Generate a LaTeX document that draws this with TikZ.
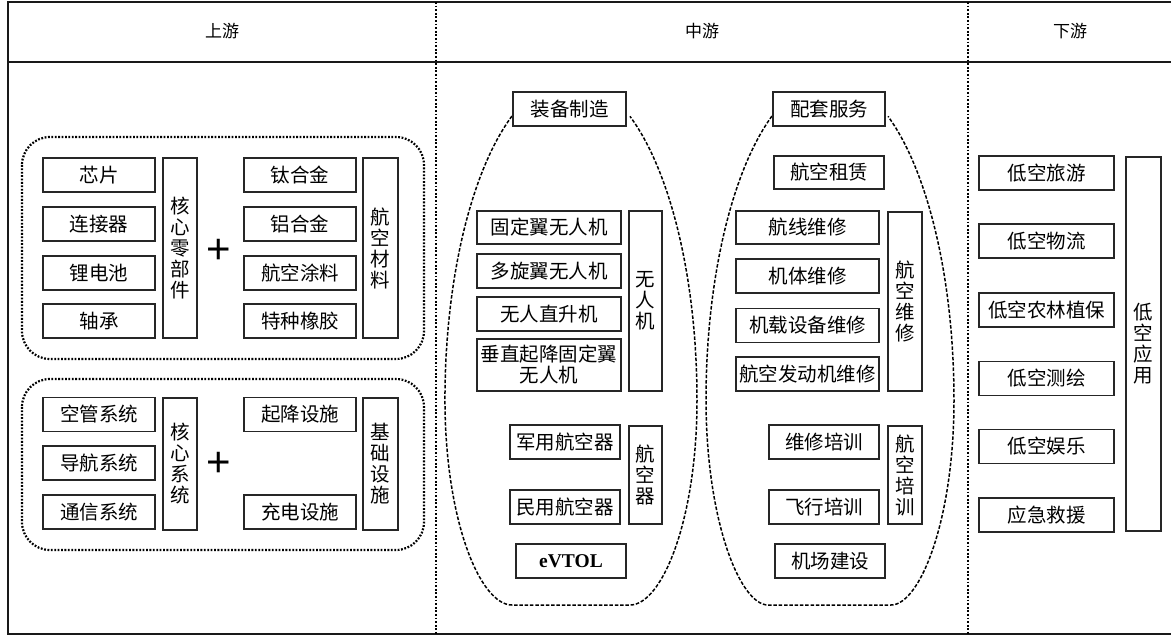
\documentclass[tikz,border=0pt]{standalone}
\usepackage{fontspec}
\newfontfamily\cjk{Noto Sans CJK SC}
\newfontfamily\tnr{Liberation Serif}
\newfontfamily\lsans{Liberation Sans}
\begin{document}
\begin{tikzpicture}[x=1pt,y=1pt,
  bx/.style 2 args={draw=black!85, line width=1.4pt, inner sep=0pt, minimum width=#1pt, minimum height=#2pt, align=center, font=\cjk\fontsize{19.5}{21}\selectfont},
  hd/.style={inner sep=0pt, font=\cjk\fontsize{17}{20}\selectfont},
  pl/.style={inner sep=0pt, font=\lsans\fontsize{42}{42}\selectfont},
  frame/.style={line width=1.8pt, black!90},
  sep/.style={line width=2pt, dash pattern=on 1.8pt off 1.8pt, black},
  grp/.style={line width=2.2pt, dash pattern=on 1.8pt off 1.6pt, black, rounded corners=28pt},
  dsh/.style={line width=1.5pt, dash pattern=on 3.5pt off 1.8pt, black}]
\useasboundingbox (0,0) rectangle (1171,-636);
% frame
\draw[frame] (1171,-2) -- (8,-2) -- (8,-634) -- (1171,-634);
\draw[frame] (8,-62) -- (1171,-62);
\draw[sep] (436,-2) -- (436,-634);
\draw[sep] (968,-2) -- (968,-634);
% headers
\node[hd] (hup) at (222,-31) {上游};
\node[hd] (hmid) at (702,-31) {中游};
\node[hd] (hdown) at (1070,-31) {下游};
% upstream group 1
\draw[grp] (22,-137) rectangle (424,-359);
\node[bx={112}{34}] (u1) at (99,-175) {芯片};
\node[bx={112}{34}] (u2) at (99,-224) {连接器};
\node[bx={112}{34}] (u3) at (99,-273) {锂电池};
\node[bx={112}{34}] (u4) at (99,-321) {轴承};
\node[bx={34}{180}] (uc) at (180,-248) {核\\心\\零\\部\\件};
\node[pl] (p1) at (219,-251) {+};
\node[bx={112}{34}] (m1) at (300,-175) {钛合金};
\node[bx={112}{34}] (m2) at (300,-224) {铝合金};
\node[bx={112}{34}] (m3) at (300,-273) {航空涂料};
\node[bx={112}{34}] (m4) at (300,-321) {特种橡胶};
\node[bx={35}{180}] (mc) at (380.5,-248) {航\\空\\材\\料};
% upstream group 2
\draw[grp] (22,-379) rectangle (424,-550);
\node[bx={112}{34}] (s1) at (99,-414.5) {空管系统};
\node[bx={112}{34}] (s2) at (99,-463) {导航系统};
\node[bx={112}{34}] (s3) at (99,-512) {通信系统};
\node[bx={34}{132}] (sc) at (180,-464) {核\\心\\系\\统};
\node[pl] (p2) at (219,-464) {+};
\node[bx={112}{34}] (f1) at (300,-414.5) {起降设施};
\node[bx={112}{34}] (f2) at (300,-512) {充电设施};
\node[bx={35}{132}] (fc) at (380.5,-464) {基\\础\\设\\施};
% midstream left
\draw[dsh] (512,-116) arc[start angle=117.9, end angle=180, x radius=126, y radius=321]
  .. controls (445,-520) and (480,-605) .. (512,-605) -- (630,-605)
  .. controls (662,-605) and (697,-520) .. (697,-400)
  arc[start angle=0, end angle=62.1, x radius=126, y radius=321];
\node[bx={113}{34}, fill=white] (zb) at (569.5,-109) {装备制造};
\node[bx={144}{33}] (d1) at (549,-227.5) {固定翼无人机};
\node[bx={144}{34}] (d2) at (549,-271) {多旋翼无人机};
\node[bx={144}{34}] (d3) at (549,-314) {无人直升机};
\node[bx={144}{52}] (d4) at (549,-365) {垂直起降固定翼\\无人机};
\node[bx={33}{180}] (dc) at (645.5,-301) {无\\人\\机};
\node[bx={110}{34}] (a1) at (565,-442) {军用航空器};
\node[bx={110}{34}] (a2) at (565,-507) {民用航空器};
\node[bx={33}{98}] (ac) at (645.5,-475) {航\\空\\器};
\node[bx={110}{34}, font=\tnr\bfseries\fontsize{19.5}{21}\selectfont] (ev) at (571,-561) {eVTOL};
% midstream right
\draw[dsh] (772,-116) arc[start angle=117.9, end angle=180, x radius=124, y radius=321]
  .. controls (706,-520) and (740,-605) .. (768,-605) -- (891,-605)
  .. controls (920,-605) and (954,-520) .. (954,-400)
  arc[start angle=0, end angle=62.1, x radius=124, y radius=321];
\node[bx={112}{34}, fill=white] (pt) at (829,-109) {配套服务};
\node[bx={110}{33}] (r1) at (829,-172.5) {航空租赁};
\node[bx={143}{33}] (w1) at (807.5,-227.5) {航线维修};
\node[bx={143}{34}] (w2) at (807.5,-276) {机体维修};
\node[bx={143}{34}] (w3) at (807.5,-325.5) {机载设备维修};
\node[bx={143}{34}] (w4) at (807.5,-374) {航空发动机维修};
\node[bx={34}{179}] (wc) at (905,-301.5) {航\\空\\维\\修};
\node[bx={110}{34}] (t1) at (824,-442) {维修培训};
\node[bx={110}{34}] (t2) at (824,-507) {飞行培训};
\node[bx={34}{98}] (tc) at (905,-475) {航\\空\\培\\训};
\node[bx={110}{34}] (jc) at (830,-561) {机场建设};
% downstream
\node[bx={135}{34}] (l1) at (1046.5,-173) {低空旅游};
\node[bx={135}{34}] (l2) at (1046.5,-241) {低空物流};
\node[bx={135}{34}] (l3) at (1046.5,-310) {低空农林植保};
\node[bx={135}{34}] (l4) at (1046.5,-378.5) {低空测绘};
\node[bx={135}{34}] (l5) at (1046.5,-446.5) {低空娱乐};
\node[bx={135}{34}] (l6) at (1046.5,-515) {应急救援};
\node[bx={35}{374}] (lc) at (1143.5,-344) {低\\空\\应\\用};
\end{tikzpicture}
\end{document}
